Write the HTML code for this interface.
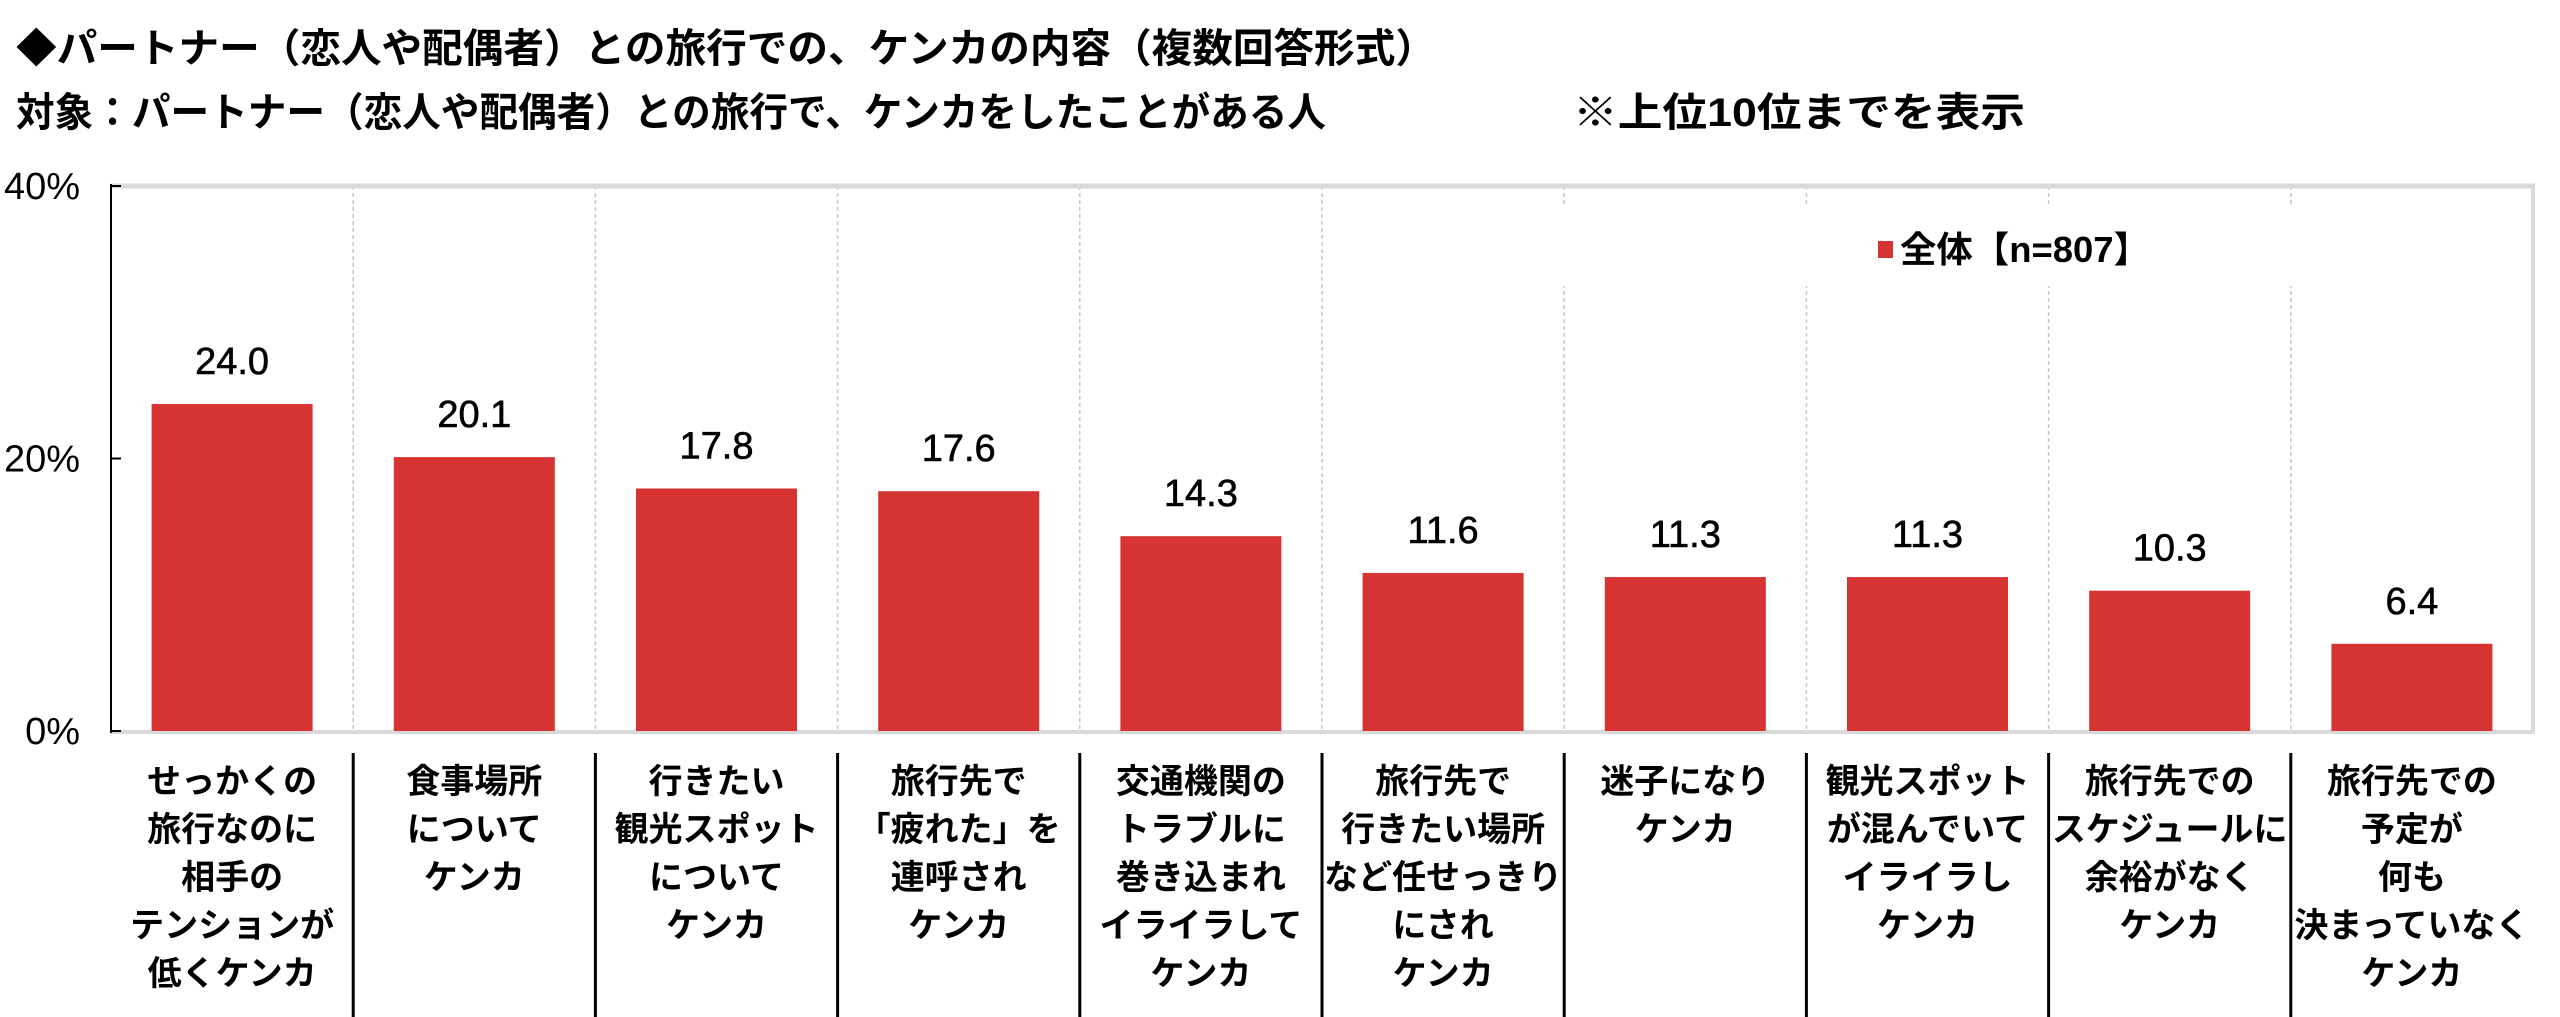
<!DOCTYPE html>
<html><head><meta charset="utf-8"><style>
html,body{margin:0;padding:0;background:#fff;}
svg{display:block;font-family:"Liberation Sans","Noto Sans CJK JP",sans-serif;}
</style></head><body>
<svg id="chart" width="2560" height="1017" viewBox="0 0 2560 1017">
<text x="16" y="62" font-size="40" font-weight="bold" textLength="1420" lengthAdjust="spacingAndGlyphs">◆パートナー（恋人や配偶者）との旅行での、ケンカの内容（複数回答形式）</text>
<text x="16" y="126" font-size="40" font-weight="bold" textLength="1310" lengthAdjust="spacingAndGlyphs">対象：パートナー（恋人や配偶者）との旅行で、ケンカをしたことがある人</text>
<text x="1573" y="126" font-size="40" font-weight="bold" textLength="452" lengthAdjust="spacingAndGlyphs">※上位10位までを表示</text>
<g id="plot"></g>
</svg>
<script>
const categories = [
  ["せっかくの","旅行なのに","相手の","テンションが","低くケンカ"],
  ["食事場所","について","ケンカ"],
  ["行きたい","観光スポット","について","ケンカ"],
  ["旅行先で","「疲れた」を","連呼され","ケンカ"],
  ["交通機関の","トラブルに","巻き込まれ","イライラして","ケンカ"],
  ["旅行先で","行きたい場所","など任せっきり","にされ","ケンカ"],
  ["迷子になり","ケンカ"],
  ["観光スポット","が混んでいて","イライラし","ケンカ"],
  ["旅行先での","スケジュールに","余裕がなく","ケンカ"],
  ["旅行先での","予定が","何も","決まっていなく","ケンカ"]
];
const values = [24.0, 20.1, 17.8, 17.6, 14.3, 11.6, 11.3, 11.3, 10.3, 6.4];
const yTicks = [0, 20, 40];
const yTickLabels = ["0%", "20%", "40%"];
const seriesName = "全体【n=807】";

const NS = "http://www.w3.org/2000/svg";
const plotG = document.getElementById("plot");
const X0 = 111, X1 = 2533, Y0 = 731, YTOP = 186, YMAX = 40;
const band = (X1 - X0) / categories.length;
function yScale(v){ return Y0 - (v / YMAX) * (Y0 - YTOP); }
function xc(i){ return X0 + band * (i + 0.5); }
function mk(tag, attrs){ const e = document.createElementNS(NS, tag); for (const k in attrs) e.setAttribute(k, attrs[k]); plotG.appendChild(e); return e; }

for (let i = 1; i < categories.length; i++) {
  const sx = X0 + band * i;
  const s = mk("line", {x1: sx, x2: sx, y1: YTOP, y2: Y0, stroke: "#c8c8c8", "stroke-width": 1.5, "stroke-dasharray": "4,3"});
  
  
  const b = mk("line", {x1: sx, x2: sx, y1: 753, y2: 1017, stroke: "#000", "stroke-width": 3});
  
  
}
const legendBg = mk("rect", {x: 1556, y: 206, width: 975, height: 80, fill: "#fff"});


const topBorder = mk("line", {x1: X0, x2: X1 + 2, y1: YTOP, y2: YTOP, stroke: "#d9d9d9", "stroke-width": 5});


const rightBorder = mk("line", {x1: X1, x2: X1, y1: YTOP, y2: Y0, stroke: "#d9d9d9", "stroke-width": 4});


const xAxis = mk("line", {x1: X0, x2: X1 + 2, y1: Y0 + 1, y2: Y0 + 1, stroke: "#d9d9d9", "stroke-width": 4});


const yAxis = mk("line", {x1: X0, x2: X0, y1: YTOP - 2, y2: Y0 + 2, stroke: "#000", "stroke-width": 2});


yTicks.forEach((t, i) => {
  const tk = mk("line", {x1: X0, x2: X0 + 10, y1: yScale(t), y2: yScale(t), stroke: "#000", "stroke-width": 2});
  
  
  const tl = mk("text", {x: 80, y: yScale(t) + 13, "font-size": 38, "text-anchor": "end"});
  tl.textContent = yTickLabels[i];
  
  
});
const BW = 161;
values.forEach((v, i) => {
  const r = mk("rect", {x: xc(i) - BW / 2, y: yScale(v), width: BW, height: Y0 - yScale(v), fill: "#d63333"});
  
  
  const t = mk("text", {x: xc(i), y: yScale(v) - 30, "font-size": 38, "text-anchor": "middle", "stroke": "#000", "stroke-width": 0.6});
  t.textContent = v.toFixed(1);
  
  
  const lab = mk("text", {x: xc(i), "font-size": 34, "font-weight": "bold", "text-anchor": "middle"});
  
  
  categories[i].forEach((line, j) => {
    const ts = document.createElementNS(NS, "tspan");
    ts.setAttribute("x", xc(i));
    ts.setAttribute("y", 793 + j * 48);
    ts.textContent = line;
    lab.appendChild(ts);
  });
});
const legendSwatch = mk("rect", {x: 1878, y: 241, width: 15, height: 17, fill: "#d63333"});


const legendText = mk("text", {x: 1900, y: 262, "font-size": 36, "font-weight": "bold", textLength: 250, lengthAdjust: "spacingAndGlyphs"});
legendText.textContent = seriesName;


</script>
</body></html>
